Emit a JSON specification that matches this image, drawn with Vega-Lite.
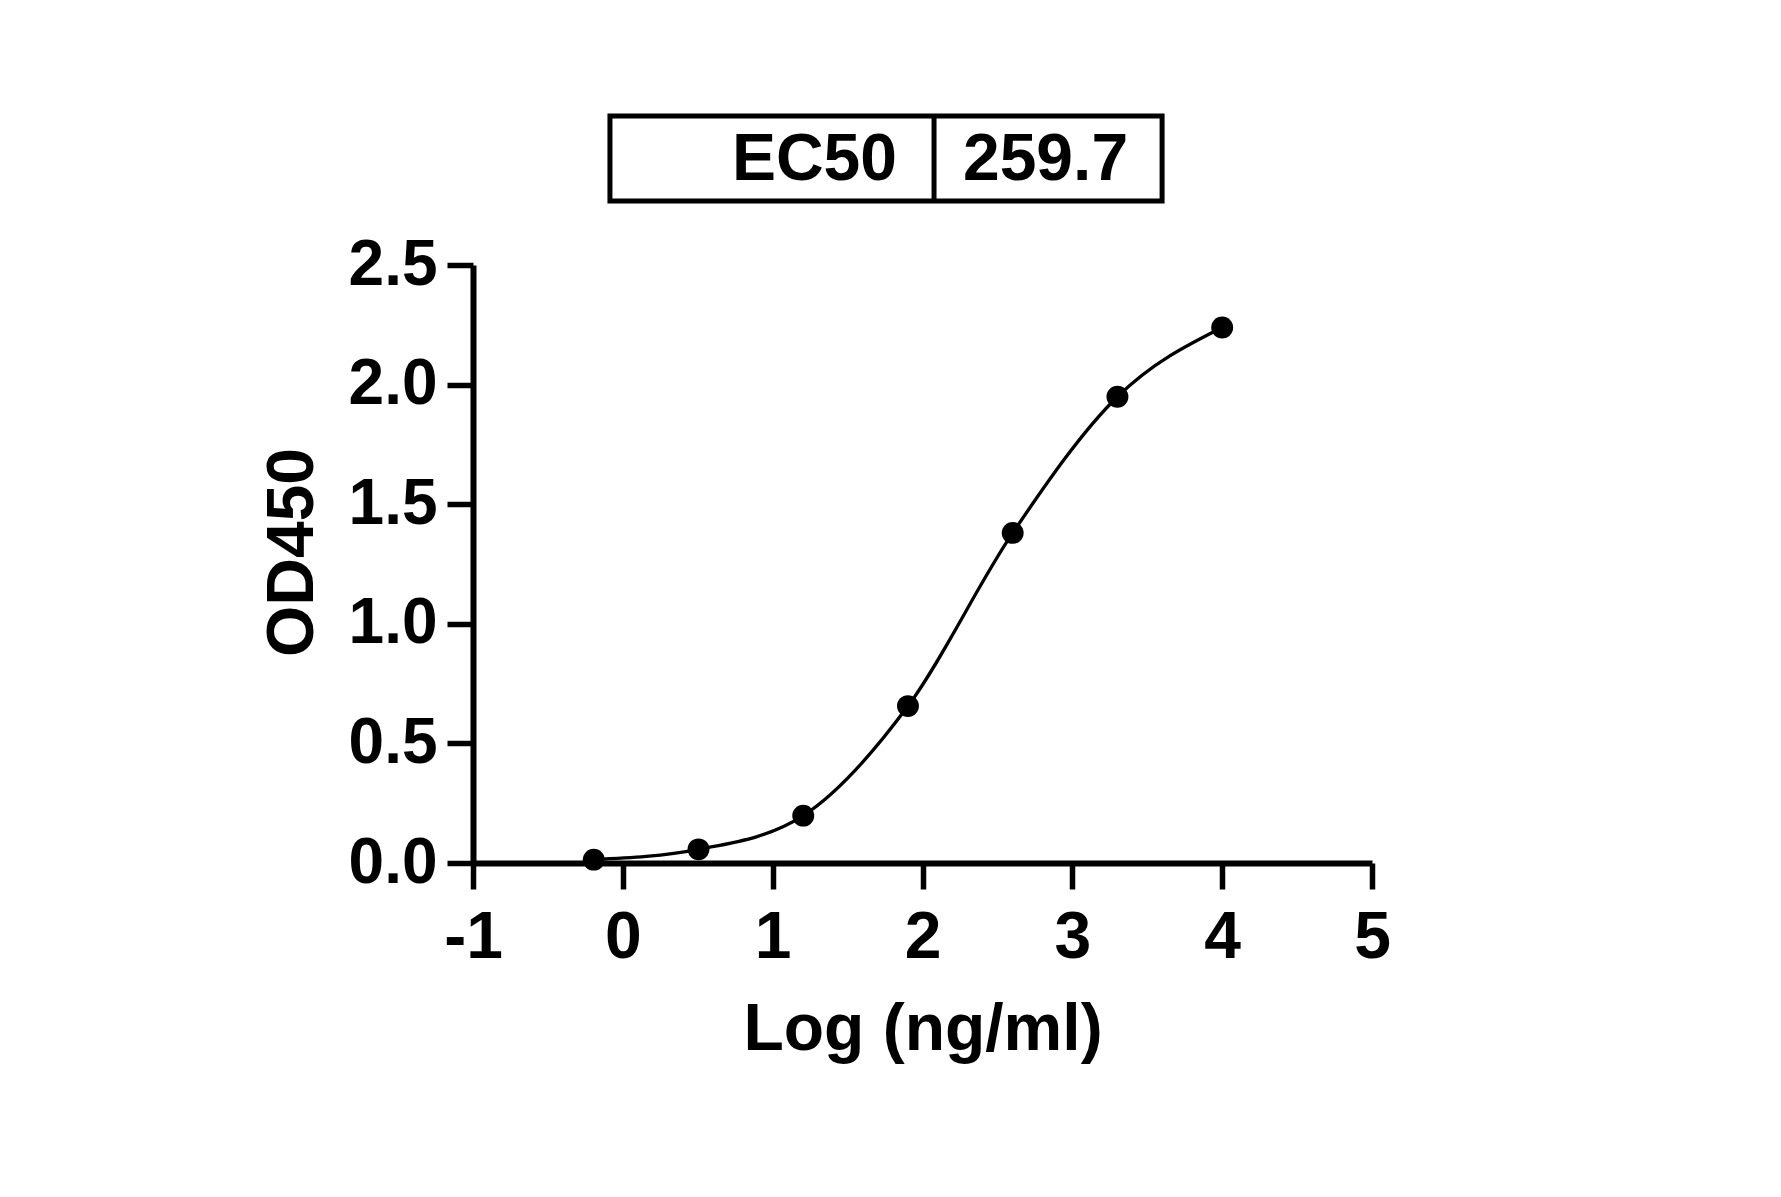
{
  "$schema": "https://vega.github.io/schema/vega-lite/v6.json",
  "width": 899,
  "height": 598,
  "autosize": {"type": "none"},
  "padding": {"left": 473, "top": 265, "right": 409, "bottom": 334},
  "background": "white",
  "config": {
    "view": {"stroke": null},
    "font": "Liberation Sans",
    "axis": {
      "grid": false,
      "domainColor": "black",
      "domainWidth": 6,
      "tickColor": "black",
      "tickWidth": 5.5,
      "tickSize": 26,
      "labelFont": "Liberation Sans",
      "labelFontWeight": "bold",
      "labelColor": "black",
      "labelFlush": false,
      "labelOverlap": false,
      "titleFont": "Liberation Sans",
      "titleFontWeight": "bold",
      "titleColor": "black",
      "titleFontSize": 66
    }
  },
  "datasets": {
    "points": [
      {"logc": -0.194, "od": 0.014},
      {"logc": 0.505, "od": 0.057},
      {"logc": 1.204, "od": 0.198},
      {"logc": 1.903, "od": 0.656},
      {"logc": 2.602, "od": 1.38},
      {"logc": 3.301, "od": 1.949},
      {"logc": 4.0, "od": 2.239}
    ],
    "table": [
      {"label": "EC50", "value": "259.7"}
    ]
  },
  "layer": [
    {
      "data": {"name": "points"},
      "mark": {"type": "line", "color": "black", "strokeWidth": 3.3, "interpolate": "monotone", "clip": false},
      "encoding": {
        "x": {
          "field": "logc", "type": "quantitative",
          "scale": {"domain": [-1, 5], "nice": false, "zero": false},
          "axis": {
            "title": "Log (ng/ml)",
            "values": [-1, 0, 1, 2, 3, 4, 5],
            "labelExpr": "'' + datum.value",
            "labelFontSize": 66,
            "labelPadding": 16,
            "titlePadding": 27
          }
        },
        "y": {
          "field": "od", "type": "quantitative",
          "scale": {"domain": [0, 2.5], "nice": false},
          "axis": {
            "title": "OD450",
            "values": [0, 0.5, 1, 1.5, 2, 2.5],
            "format": ".1f",
            "labelFontSize": 64,
            "labelPadding": 10,
            "titlePadding": 22,
            "titleY": 287
          }
        }
      }
    },
    {
      "data": {"name": "points"},
      "mark": {"type": "circle", "color": "black", "opacity": 1, "size": 480, "clip": false},
      "encoding": {
        "x": {"field": "logc", "type": "quantitative"},
        "y": {"field": "od", "type": "quantitative"}
      }
    },
    {
      "data": {"name": "table"},
      "mark": {"type": "rect", "fill": "white", "stroke": "black", "strokeWidth": 5, "clip": false},
      "encoding": {
        "x": {"datum": -0.086},
        "x2": {"datum": 3.599},
        "y": {"datum": 3.123},
        "y2": {"datum": 2.768}
      }
    },
    {
      "data": {"name": "table"},
      "mark": {"type": "rule", "color": "black", "strokeWidth": 5, "clip": false},
      "encoding": {
        "x": {"datum": 2.077},
        "y": {"datum": 3.123},
        "y2": {"datum": 2.768}
      }
    },
    {
      "data": {"name": "table"},
      "mark": {"type": "text", "font": "Liberation Sans", "fontWeight": "bold", "fontSize": 66, "align": "right", "baseline": "alphabetic", "color": "black", "clip": false},
      "encoding": {
        "x": {"datum": 1.83},
        "y": {"datum": 2.857},
        "text": {"field": "label"}
      }
    },
    {
      "data": {"name": "table"},
      "mark": {"type": "text", "font": "Liberation Sans", "fontWeight": "bold", "fontSize": 66, "align": "left", "baseline": "alphabetic", "color": "black", "clip": false},
      "encoding": {
        "x": {"datum": 2.27},
        "y": {"datum": 2.857},
        "text": {"field": "value"}
      }
    }
  ]
}
